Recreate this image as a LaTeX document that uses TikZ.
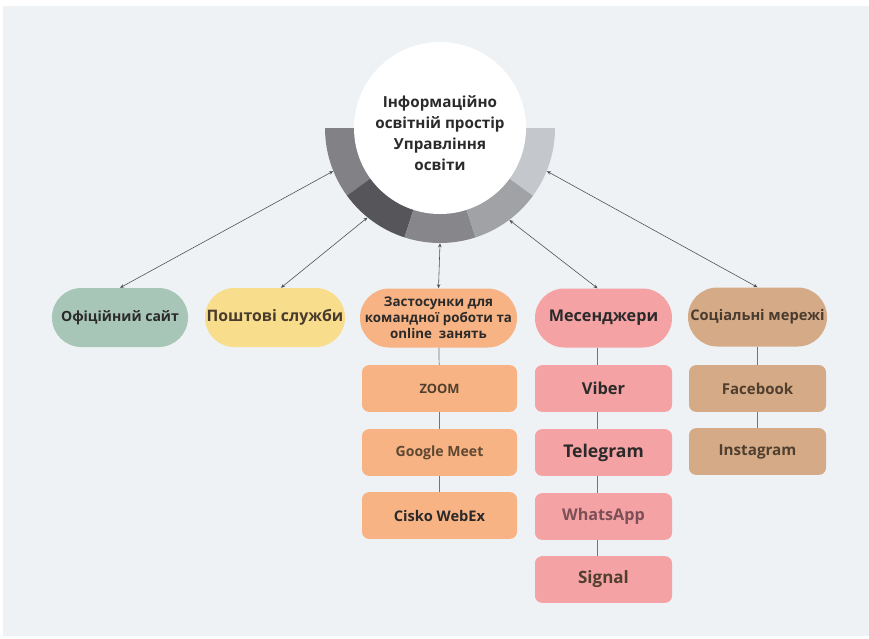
\documentclass[tikz,border=0pt]{standalone}
\usepackage{fontspec}
\setmainfont{Open Sans}
\usetikzlibrary{
  arrows.meta
  }
\definecolor{panel}{HTML}{EEF2F5}
\definecolor{sage}{HTML}{A8C6B8}
\definecolor{sand}{HTML}{F8DE8C}
\definecolor{peach}{HTML}{F7B383}
\definecolor{rose}{HTML}{F4A2A4}
\definecolor{tan}{HTML}{D5AA86}
\definecolor{ink}{HTML}{2B2A2A}
\definecolor{mauve}{HTML}{7A4F55}
\definecolor{wire}{HTML}{4D5156}

\begin{document}
\begin{tikzpicture}[x=0.03cm, y=-0.03cm]
  \tikzstyle{every node}=[font=\bfseries, text=ink, inner sep=0pt]
  \tikzstyle{pill}=[rounded corners=0.88cm, minimum height=1.77cm]
  \tikzstyle{leaf}=[rounded corners=6pt, minimum height=1.4cm]
  \tikzstyle{link}=[wire, line width=0.5pt,
    {Stealth[length=3.5pt,width=3pt]}-{Stealth[length=3.5pt,width=3pt]}]
  \tikzstyle{stem}=[wire!80, line width=0.6pt]
  \useasboundingbox (0,0) rectangle (869,638);
  \fill[white] (0,0) rectangle (869,638);
  \fill[panel] (3,6) rectangle (869,636);
  %
  \begin{scope}[shift={(440,128)}]
    \foreach \a/\b/\c in {180/144/818186, 144/108/56565A, 108/72/87878B,
                          72/36/A0A2A6, 36/0/C4C8CC} {
      \definecolor{seg}{HTML}{\c}
      \fill[seg] (\a:85) -- (\a:115) arc[start angle=\a, end angle=\b, radius=115]
        -- (\b:85) arc[start angle=\b, end angle=\a, radius=85] -- cycle;
    }
  \end{scope}
  \node[circle, minimum size=6.9cm] (ring) at (440,128) {};
  \node[circle, fill=white, minimum size=5.16cm] (hub) at (440,128) {};
  \node[align=center, font=\bfseries\fontsize{13}{18}\selectfont] (title) at (440,133)
    {Інформаційно\\освітній простір\\Управління\\освіти};
  %
  \node[pill, fill=sage, minimum width=4.08cm, font=\bfseries\fontsize{12}{14}\selectfont]
    (site) at (120,317.5) {Офіційний сайт};
  \node[pill, fill=sand, minimum width=4.2cm, text=ink!80!brown,
    font=\bfseries\fontsize{13.5}{15}\selectfont] (mail) at (275,317.5) {Поштові служби};
  \node[pill, fill=peach, minimum width=4.71cm, align=center,
    font=\bfseries\fontsize{11.4}{13.6}\selectfont] (apps) at (438.5,318)
    {Застосунки для\\командної роботи та\\online\ \ занять};
  \node[pill, fill=rose, minimum width=4.11cm, font=\bfseries\fontsize{13.8}{16}\selectfont]
    (msg) at (603.5,318) {Месенджери};
  \node[pill, fill=tan, minimum width=4.17cm, text=ink!80!brown,
    font=\bfseries\fontsize{12.5}{14}\selectfont] (social) at (757.5,317) {Соціальні мережі};
  %
  \node[leaf, fill=peach, minimum width=4.65cm, text=ink!75!brown,
    font=\bfseries\fontsize{11}{12}\selectfont] (zoom) at (439.5,388.5) {ZOOM};
  \node[leaf, fill=peach, minimum width=4.65cm, text=ink!65!brown,
    font=\bfseries\fontsize{12}{14}\selectfont] (meet) at (439.5,452.5) {Google Meet};
  \node[leaf, fill=peach, minimum width=4.65cm,
    font=\bfseries\fontsize{12.5}{14}\selectfont] (webex) at (439.5,515.5) {Cisko WebEx};
  \node[leaf, fill=rose, minimum width=4.11cm,
    font=\bfseries\fontsize{14}{16}\selectfont] (viber) at (603.5,388.5) {Viber};
  \node[leaf, fill=rose, minimum width=4.11cm,
    font=\bfseries\fontsize{15}{17}\selectfont] (tgram) at (603.5,452.5) {Telegram};
  \node[leaf, fill=rose, minimum width=4.11cm, text=mauve,
    font=\bfseries\fontsize{13.8}{15}\selectfont] (wapp) at (603.5,516.5) {WhatsApp};
  \node[leaf, fill=rose, minimum width=4.11cm, text=ink!75!brown,
    font=\bfseries\fontsize{14.5}{17}\selectfont] (signal) at (603.5,579.5) {Signal};
  \node[leaf, fill=tan, minimum width=4.11cm, text=ink!75!brown,
    font=\bfseries\fontsize{12.8}{14}\selectfont] (fb) at (757.5,388.5) {Facebook};
  \node[leaf, fill=tan, minimum width=4.11cm, text=ink!75!brown,
    font=\bfseries\fontsize{13}{15}\selectfont] (ig) at (757.5,451.5) {Instagram};
  %
  \draw[link] (ring.202) -- (site.north);
  \draw[link] (ring.231) -- ([xshift=0.18cm]mail.north);
  \draw[link] (ring.270) -- (apps.north);
  \draw[link] (ring.307) -- ([xshift=-0.18cm]msg.north);
  \draw[link] (ring.338) -- (social.north);
  %
  \draw[stem] (apps) -- (zoom) -- (meet) -- (webex);
  \draw[stem] ([xshift=-0.18cm]msg.south) -- ([xshift=-0.18cm]viber.north);
  \draw[stem] ([xshift=-0.18cm]viber.south) -- ([xshift=-0.18cm]tgram.north);
  \draw[stem] ([xshift=-0.18cm]tgram.south) -- ([xshift=-0.18cm]wapp.north);
  \draw[stem] ([xshift=-0.18cm]wapp.south) -- ([xshift=-0.18cm]signal.north);
  \draw[stem] (social) -- (fb) -- (ig);
\end{tikzpicture}
\end{document}
